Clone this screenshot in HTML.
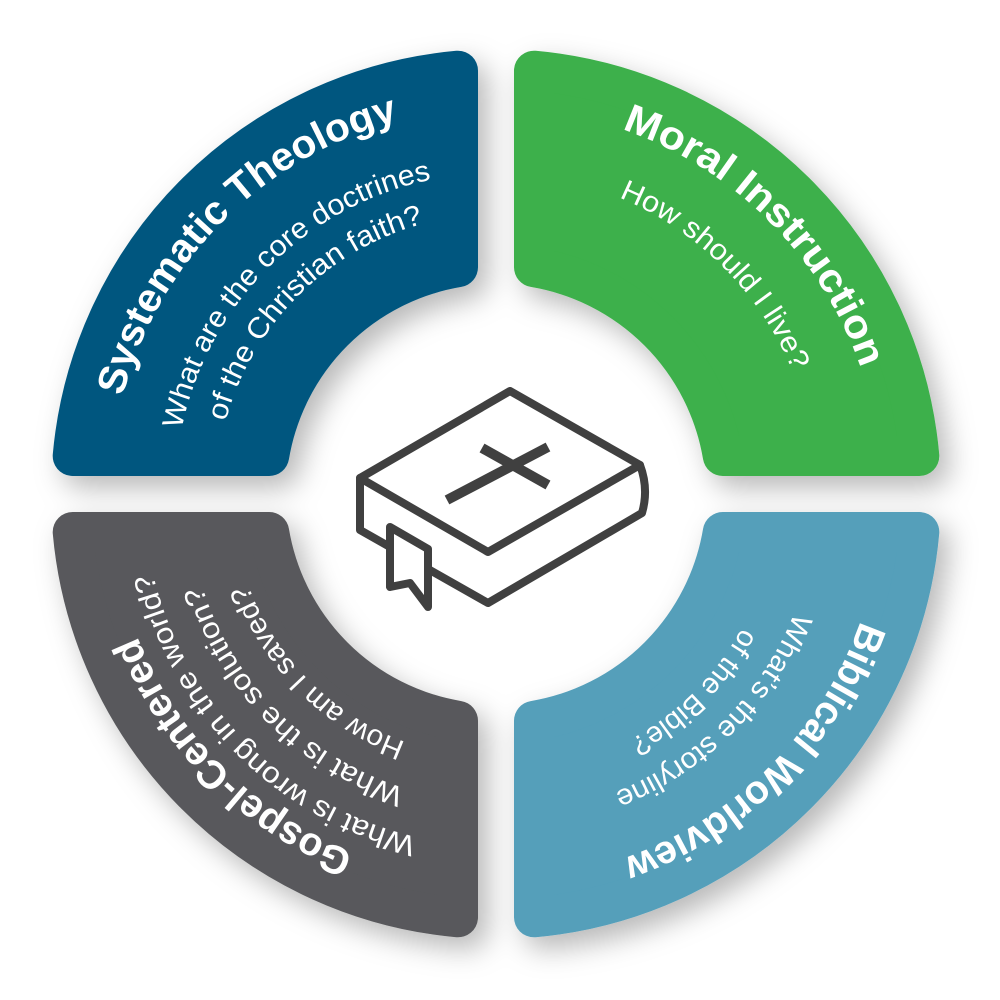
<!DOCTYPE html>
<html><head><meta charset="utf-8">
<style>html,body{margin:0;padding:0;background:#fff;}svg{display:block}</style>
</head><body>
<svg width="1000" height="1000" viewBox="0 0 1000 1000" xmlns="http://www.w3.org/2000/svg">
<defs>
<filter id="sh" x="-20%" y="-20%" width="140%" height="140%">
<feDropShadow dx="10" dy="12" stdDeviation="14" flood-color="#000" flood-opacity="0.28"/>
</filter>
<path id="q" d="M458,70.7 A425,425 0 0 0 72.7,456 L269.2,456 A230,230 0 0 1 458,267.2 Z" stroke-width="40" stroke-linejoin="round"/>
<path id="r386" d="M111.5,527.6 A386,386 0 0 1 529.6,109.5" fill="none"/>
<path id="r352" d="M145.3,524.7 A352,352 0 0 1 526.7,143.3" fill="none"/>
<path id="r321" d="M176.2,522.0 A321,321 0 0 1 524.0,174.2" fill="none"/>
<path id="r308" d="M189.2,520.8 A308,308 0 0 1 522.8,187.2" fill="none"/>
<path id="r280" d="M217.1,518.4 A280,280 0 0 1 520.4,215.1" fill="none"/>
<path id="r264" d="M233.0,517.0 A264,264 0 0 1 519.0,231.0" fill="none"/>
</defs>

<g filter="url(#sh)">
  <use href="#q" fill="#03577f" stroke="#03577f"/>
  <use href="#q" fill="#3cb04b" stroke="#3cb04b" transform="rotate(90 496 494)"/>
  <use href="#q" fill="#549fba" stroke="#549fba" transform="rotate(180 496 494)"/>
  <use href="#q" fill="#58595b" stroke="#58595b" transform="rotate(270 496 494)"/>
</g>

<g fill="#fff" font-family="Liberation Sans, sans-serif" text-anchor="middle">
  <text font-size="40" font-weight="bold"><textPath href="#r386" startOffset="50%" textLength="409" lengthAdjust="spacingAndGlyphs">Systematic Theology</textPath></text>
  <text font-size="29"><textPath href="#r321" startOffset="50%" textLength="374" lengthAdjust="spacingAndGlyphs">What are the core doctrines</textPath></text>
  <text font-size="29"><textPath href="#r280" startOffset="50%" textLength="293" lengthAdjust="spacingAndGlyphs">of the Christian faith?</textPath></text>
  <g transform="rotate(90 496 494)">
    <text font-size="40" font-weight="bold"><textPath href="#r386" startOffset="50%" textLength="350" lengthAdjust="spacingAndGlyphs">Moral Instruction</textPath></text>
    <text font-size="29"><textPath href="#r321" startOffset="50%" textLength="252" lengthAdjust="spacingAndGlyphs">How should I live?</textPath></text>
  </g>
  <g transform="rotate(180 496 494)">
    <text font-size="40" font-weight="bold"><textPath href="#r386" startOffset="50%" textLength="348" lengthAdjust="spacingAndGlyphs">Biblical Worldview</textPath></text>
    <text font-size="29"><textPath href="#r321" startOffset="50%" textLength="262" lengthAdjust="spacingAndGlyphs">What’s the storyline</textPath></text>
    <text font-size="29"><textPath href="#r280" startOffset="50%" textLength="161" lengthAdjust="spacingAndGlyphs">of the Bible?</textPath></text>
  </g>
  <g transform="rotate(270 496 494)">
    <text font-size="40" font-weight="bold"><textPath href="#r386" startOffset="50%" textLength="315" lengthAdjust="spacingAndGlyphs">Gospel-Centered</textPath></text>
    <text font-size="29"><textPath href="#r352" startOffset="50%" textLength="393" lengthAdjust="spacingAndGlyphs">What is wrong in the world?</textPath></text>
    <text font-size="29"><textPath href="#r308" startOffset="50%" textLength="298" lengthAdjust="spacingAndGlyphs">What is the solution?</textPath></text>
    <text font-size="29"><textPath href="#r264" startOffset="50%" textLength="230" lengthAdjust="spacingAndGlyphs">How am I saved?</textPath></text>
  </g>
</g>

<g fill="none" stroke="#404040" stroke-width="8" stroke-linejoin="round" stroke-linecap="round">
  <path d="M510,391 L360,478 L488,552 L640,465 Z"/>
  <path d="M360,478 L360,530 L390,547"/>
  <path d="M428,569 L488,603 L642,513 Q649,489 640,465"/>
  <path d="M390,527 L428,549 L428,607 L410,583 L390,587 Z" fill="#fff"/>
</g>
<g stroke="#404040" stroke-width="10" stroke-linecap="butt">
  <line x1="447" y1="500" x2="548" y2="447"/>
  <line x1="482" y1="448" x2="548" y2="485"/>
</g>
</svg>
</body></html>
